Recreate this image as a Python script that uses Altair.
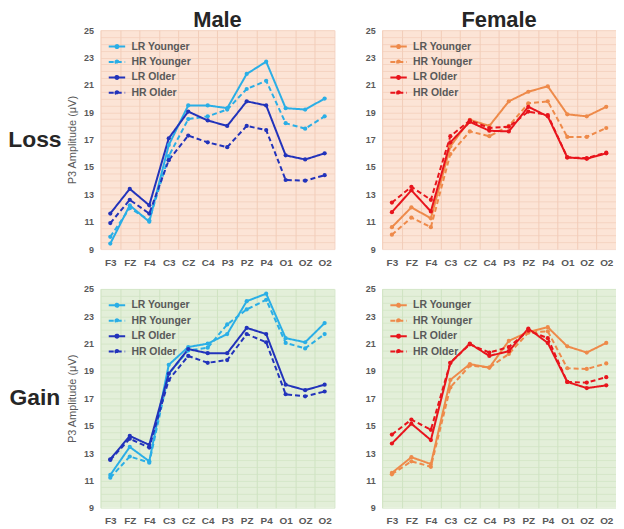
import altair as alt
import pandas as pd

ELECTRODES = ["F3", "FZ", "F4", "C3", "CZ", "C4", "P3", "PZ", "P4", "O1", "OZ", "O2"]
SERIES = ["LR Younger", "HR Younger", "LR Older", "HR Older"]

# Male, Loss
male_loss_lry = [9.4, 12.2, 11.0, 16.6, 19.5, 19.5, 19.3, 21.8, 22.7, 19.3, 19.2, 20.0]
male_loss_hry = [9.9, 12.0, 11.1, 15.8, 18.5, 18.7, 19.2, 20.7, 21.3, 18.2, 17.8, 18.7]
male_loss_lro = [11.6, 13.4, 12.2, 17.1, 19.05, 18.4, 18.0, 19.8, 19.5, 15.85, 15.55, 16.0]
male_loss_hro = [10.9, 12.6, 11.6, 15.5, 17.3, 16.8, 16.45, 18.0, 17.7, 14.05, 14.0, 14.4]

# Female, Loss
female_loss_lry = [10.6, 12.05, 11.25, 16.5, 18.45, 18.0, 19.8, 20.5, 20.9, 18.85, 18.7, 19.4]
female_loss_hry = [10.05, 11.3, 10.6, 15.95, 17.6, 17.25, 18.0, 19.65, 19.8, 17.2, 17.2, 17.85]
female_loss_lro = [11.7, 13.3, 11.75, 16.8, 18.3, 17.65, 17.6, 19.4, 18.7, 15.7, 15.6, 16.0]
female_loss_hro = [12.4, 13.55, 12.6, 17.25, 18.4, 17.85, 17.95, 19.05, 18.8, 15.7, 15.65, 16.05]

# Male, Gain
male_gain_lry = [11.4, 13.45, 12.4, 19.45, 20.75, 21.0, 21.7, 24.1, 24.65, 21.4, 21.1, 22.5]
male_gain_hry = [11.2, 12.75, 12.3, 18.8, 20.5, 20.7, 22.4, 23.5, 24.2, 21.05, 20.65, 21.7]
male_gain_lro = [12.55, 14.25, 13.6, 18.8, 20.6, 20.3, 20.3, 22.15, 21.7, 18.0, 17.6, 18.0]
male_gain_hro = [12.5, 14.05, 13.4, 18.35, 20.1, 19.6, 19.8, 21.7, 21.1, 17.3, 17.15, 17.5]

# Female, Gain
female_gain_lry = [11.55, 12.7, 12.2, 18.35, 19.5, 19.25, 21.2, 21.85, 22.2, 20.8, 20.35, 21.05]
female_gain_hry = [11.45, 12.4, 12.0, 17.8, 19.4, 19.25, 20.25, 21.8, 21.9, 19.2, 19.15, 19.55]
female_gain_lro = [13.7, 15.15, 13.95, 19.6, 21.0, 20.1, 20.45, 22.1, 21.05, 18.2, 17.75, 17.95]
female_gain_hro = [14.35, 15.45, 14.7, 19.6, 20.95, 20.35, 20.75, 21.95, 21.4, 18.2, 18.15, 18.55]

MALE_COLORS = ["#2aaee6", "#2aaee6", "#2233bb", "#2233bb"]
FEMALE_COLORS = ["#ee8a4a", "#ee8a4a", "#e8141c", "#e8141c"]
LOSS_BG, LOSS_GRID = "#fce4d6", "#f2cdb8"
GAIN_BG, GAIN_GRID = "#e3efd9", "#cfe3c2"

Y_TICKS = [9 + 0.5 * i for i in range(33)]
FONT = "Liberation Sans"
GRAY = "#595959"
SYMBOL = "M-1.5,0L1.5,0M-0.28,0A0.28,0.28,0,1,1,0.28,0A0.28,0.28,0,1,1,-0.28,0"


def frame(series_lists):
    rows = []
    for name, vals in zip(SERIES, series_lists):
        for e, v in zip(ELECTRODES, vals):
            rows.append({"electrode": e, "series": name, "value": v})
    return pd.DataFrame(rows)


def panel(series_lists, colors, bg, grid, title=None, row_label=None, ytitle=False):
    df = frame(series_lists)
    legend = alt.Legend(
        title=None, orient="top-left", offset=10, padding=0,
        labelFont=FONT, labelFontSize=10.5, labelFontWeight="bold", labelColor=GRAY,
        symbolType=SYMBOL, symbolSize=121, symbolStrokeWidth=2, rowPadding=2.5,
        labelOffset=8,
    )
    color = alt.Color("series:N", scale=alt.Scale(domain=SERIES, range=colors), legend=legend)
    dash = alt.StrokeDash("series:N",
                          scale=alt.Scale(domain=SERIES, range=[[1, 0], [5, 3], [1, 0], [5, 3]]),
                          legend=legend)
    x = alt.X("electrode:N", sort=ELECTRODES,
              scale=alt.Scale(type="band", paddingInner=0, paddingOuter=0),
              axis=alt.Axis(title=None, tickBand="extent", grid=True, gridColor=grid,
                            gridWidth=1, ticks=False, domain=False, labelAngle=0,
                            labelFont=FONT, labelFontSize=10, labelFontWeight="bold",
                            labelColor=GRAY, labelPadding=8))
    yaxis = dict(values=Y_TICKS,
                 labelExpr="datum.value % 2 == 1 ? format(datum.value, 'd') : ''",
                 grid=True, gridColor=grid, gridWidth=0.7, ticks=False, domain=False,
                 labelFont=FONT, labelFontSize=9, labelFontWeight="bold", labelColor=GRAY,
                 labelPadding=7)
    if ytitle:
        yaxis.update(title="P3 Amplitude (μV)", titleFont=FONT, titleFontSize=11,
                     titleFontWeight="normal", titleColor=GRAY, titlePadding=6)
    else:
        yaxis.update(title=None)
    y = alt.Y("value:Q", scale=alt.Scale(domain=[9, 25], nice=False, zero=False),
              axis=alt.Axis(**yaxis))
    lines = alt.Chart(df).mark_line(strokeWidth=2).encode(x=x, y=y, color=color, strokeDash=dash)
    pts = alt.Chart(df).mark_point(filled=True, size=18, opacity=1).encode(x=x, y=y, color=color)
    layers = [lines, pts]
    if row_label:
        lab = alt.Chart(pd.DataFrame({"t": [row_label]})).mark_text(
            font=FONT, fontSize=23, fontWeight="bold", color="#262626", align="center",
            baseline="middle").encode(text="t:N", x=alt.value(-66), y=alt.value(110))
        layers.append(lab)
    props = dict(width=235, height=220, view=alt.ViewBackground(fill=bg, stroke=None))
    if title:
        props["title"] = alt.TitleParams(title, font=FONT, fontSize=22, fontWeight="bold",
                                         color="#262626", anchor="middle", frame="group",
                                         offset=-6)
    return alt.layer(*layers).properties(**props)


p1 = panel([male_loss_lry, male_loss_hry, male_loss_lro, male_loss_hro], MALE_COLORS,
           LOSS_BG, LOSS_GRID, title="Male", row_label="Loss", ytitle=True)
p2 = panel([female_loss_lry, female_loss_hry, female_loss_lro, female_loss_hro], FEMALE_COLORS,
           LOSS_BG, LOSS_GRID, title="Female")
p3 = panel([male_gain_lry, male_gain_hry, male_gain_lro, male_gain_hro], MALE_COLORS,
           GAIN_BG, GAIN_GRID, row_label="Gain", ytitle=True)
p4 = panel([female_gain_lry, female_gain_hry, female_gain_lro, female_gain_hro], FEMALE_COLORS,
           GAIN_BG, GAIN_GRID)

chart = alt.concat(p1, p2, p3, p4, columns=2, spacing=alt.RowColnumber(row=18, column=30)).resolve_scale(
    color="independent", strokeDash="independent"
).properties(padding=0).configure_view(stroke=None)

chart.save("out.html", embed_options={"renderer": "svg", "actions": False})
